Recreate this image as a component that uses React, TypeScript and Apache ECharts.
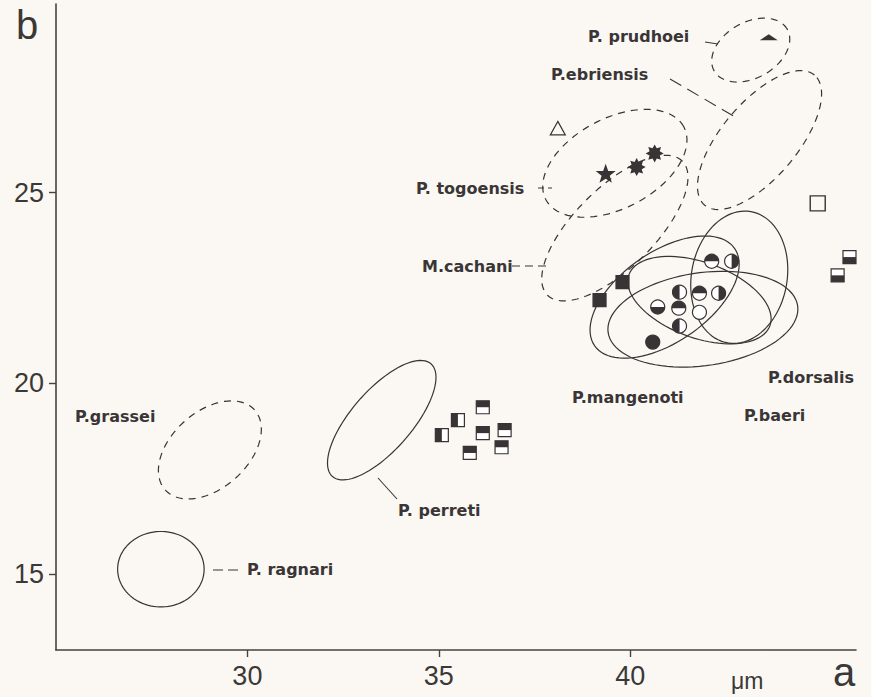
import React, { useEffect, useRef } from "react";
import * as echarts from "echarts";

// ---- axis ticks ----
const X_TICKS = [30, 35, 40];
const Y_TICKS = [15, 20, 25];

// ---- ellipses: [centerX, centerY, semiMajor, semiMinor, angleDeg] (data units) ----
const solidEllipses = [
  [27.74, 15.12, 1.13, 0.99, 0], // P. ragnari
  [33.51, 19.03, 1.96, 0.79, 49], // P. perreti
  [40.9, 22.26, 2.23, 1.18, 35], // mangenoti cluster
  [41.81, 22.18, 1.96, 0.99, -20],
  [41.9, 21.68, 2.5, 1.22, 8],
  [42.85, 22.78, 1.75, 1.25, 80],
];
const dashedEllipses = [
  [29.02, 18.25, 1.57, 1.0, 42], // P. grassei
  [39.6, 25.77, 2.04, 1.18, 28], // P. togoensis
  [39.6, 24.07, 2.49, 1.05, 45], // M. cachani
  [43.15, 28.74, 1.1, 0.73, 30], // P. prudhoei
  [43.38, 26.38, 2.23, 0.99, 50], // P. ebriensis
];

// ---- individual points ----
const filledSquares = [[39.2, 22.18], [39.8, 22.65]];
const topBlackSquares = [[36.15, 19.37], [36.15, 18.69], [36.72, 18.77], [36.64, 18.32], [35.81, 18.17]];
const leftBlackSquares = [[35.5, 19.03], [35.08, 18.64]];
const bottomBlackSquares = [[45.73, 23.31], [45.42, 22.83]];
const openSquares = [[44.9, 24.72]];
const filledCircles = [[40.59, 21.08]];
const openCircles = [[41.81, 21.86]];
const topBlackCircles = [[42.13, 23.2], [41.81, 22.36], [41.27, 21.97]];
const bottomBlackCircles = [[40.72, 22.0]];
const leftBlackCircles = [[41.29, 22.39], [41.29, 21.5]];
const rightBlackCircles = [[42.65, 23.2], [42.31, 22.36]];
const openTriangles = [[38.11, 26.66]];
const flatTriangles = [[43.62, 29.05]];
const fivePointStars = [[39.36, 25.48]];
const eightPointStars = [[40.17, 25.67], [40.64, 26.03]];

const INK = "#383334";
const BG = "#fbf8f3";
const LABEL_FONT = { fontFamily: "DejaVu Sans", fontWeight: "bold", fontSize: 16, fill: "#3a3536" };

function ellipseSeries(data: number[][], dashed: boolean) {
  return {
    type: "custom",
    data,
    encode: { x: 0, y: 1 },
    silent: true,
    renderItem: (_p: any, api: any) => {
      const cx = api.value(0), cy = api.value(1), a = api.value(2), b = api.value(3);
      const th = (api.value(4) * Math.PI) / 180;
      const pts: number[][] = [];
      const N = 90;
      for (let i = 0; i < N; i++) {
        const t = (i / N) * Math.PI * 2;
        const x = cx + a * Math.cos(th) * Math.cos(t) - b * Math.sin(th) * Math.sin(t);
        const y = cy + a * Math.sin(th) * Math.cos(t) + b * Math.cos(th) * Math.sin(t);
        pts.push(api.coord([x, y]));
      }
      return {
        type: "polygon",
        shape: { points: pts },
        style: { fill: "none", stroke: INK, lineWidth: 1.2, lineDash: dashed ? [7, 6] : null },
      };
    },
  };
}

function starPoints(px: number, py: number, n: number, R: number, r: number) {
  const pts: number[][] = [];
  for (let k = 0; k < 2 * n; k++) {
    const ang = -Math.PI / 2 + (k * Math.PI) / n;
    const rad = k % 2 === 0 ? R : r;
    pts.push([px + rad * Math.cos(ang), py + rad * Math.sin(ang)]);
  }
  return pts;
}

function drawMarker(kind: string, px: number, py: number): any {
  const s = 13;
  const r = 7;
  const sq = (fill: string) => ({
    type: "rect",
    shape: { x: px - s / 2, y: py - s / 2, width: s, height: s },
    style: { fill, stroke: INK, lineWidth: 1.2 },
  });
  const circ = (fill: string) => ({
    type: "circle",
    shape: { cx: px, cy: py, r },
    style: { fill, stroke: INK, lineWidth: 1.2 },
  });
  const half = (a0: number, a1: number) => ({
    type: "sector",
    shape: { cx: px, cy: py, r0: 0, r, startAngle: a0, endAngle: a1, clockwise: true },
    style: { fill: INK },
  });
  switch (kind) {
    case "sqFill":
      return sq(INK);
    case "sqTop":
      return { type: "group", children: [sq("#fff"), { type: "rect", shape: { x: px - s / 2, y: py - s / 2, width: s, height: s / 2 }, style: { fill: INK } }] };
    case "sqBottom":
      return { type: "group", children: [sq("#fff"), { type: "rect", shape: { x: px - s / 2, y: py, width: s, height: s / 2 }, style: { fill: INK } }] };
    case "sqLeft":
      return { type: "group", children: [sq("#fff"), { type: "rect", shape: { x: px - s / 2, y: py - s / 2, width: s / 2, height: s }, style: { fill: INK } }] };
    case "sqOpen":
      return { type: "rect", shape: { x: px - 7.5, y: py - 7.5, width: 15, height: 15 }, style: { fill: BG, stroke: INK, lineWidth: 1.4 } };
    case "cFill":
      return circ(INK);
    case "cOpen":
      return circ("#fff");
    case "cTop":
      return { type: "group", children: [circ("#fff"), half(Math.PI, Math.PI * 2)] };
    case "cBottom":
      return { type: "group", children: [circ("#fff"), half(0, Math.PI)] };
    case "cLeft":
      return { type: "group", children: [circ("#fff"), half(Math.PI / 2, (Math.PI * 3) / 2)] };
    case "cRight":
      return { type: "group", children: [circ("#fff"), half(-Math.PI / 2, Math.PI / 2)] };
    case "triOpen":
      return {
        type: "polygon",
        shape: { points: [[px, py - 8], [px + 7.5, py + 5.5], [px - 7.5, py + 5.5]] },
        style: { fill: "none", stroke: INK, lineWidth: 1.2 },
      };
    case "triFlat":
      return {
        type: "polygon",
        shape: { points: [[px, py - 4], [px + 9, py + 2], [px - 9, py + 2]] },
        style: { fill: INK },
      };
    case "star5":
      return { type: "polygon", shape: { points: starPoints(px, py, 5, 10.5, 4.3) }, style: { fill: INK } };
    case "star8":
      return { type: "polygon", shape: { points: starPoints(px, py, 8, 9, 5.5) }, style: { fill: INK } };
  }
  return null;
}

function markerSeries(data: number[][], kind: string) {
  return {
    type: "custom",
    data,
    encode: { x: 0, y: 1 },
    z: 5,
    silent: true,
    renderItem: (_p: any, api: any) => {
      const [px, py] = api.coord([api.value(0), api.value(1)]);
      return drawMarker(kind, px, py);
    },
  };
}

function label(text: string, x: number, y: number) {
  return { type: "text", x, y, style: { text, ...LABEL_FONT, align: "left", verticalAlign: "middle" } };
}
function leader(x1: number, y1: number, x2: number, y2: number, dash?: number[]) {
  return {
    type: "line",
    shape: { x1, y1, x2, y2 },
    style: { stroke: INK, lineWidth: 1.1, lineDash: dash || null },
  };
}

export default function App() {
  const ref = useRef<HTMLDivElement>(null);
  useEffect(() => {
    if (!ref.current) return;
    const chart = echarts.init(ref.current, null, { renderer: "svg" });
    const axisFont = { fontFamily: "Liberation Sans", fontSize: 27, color: "#3b3838" };
    chart.setOption({
      animation: false,
      backgroundColor: BG,
      grid: { left: 56, right: 15, top: 4, bottom: 47 },
      xAxis: {
        type: "value",
        min: 25,
        max: 45.9,
        splitLine: { show: false },
        axisLine: { lineStyle: { color: "#4a3f42", width: 1.6 } },
        axisTick: { customValues: X_TICKS, length: 7, lineStyle: { color: "#4a3f42", width: 1.4 } },
        axisLabel: { customValues: X_TICKS, margin: 12, ...axisFont },
      },
      yAxis: {
        type: "value",
        min: 13,
        max: 29.95,
        splitLine: { show: false },
        axisLine: { lineStyle: { color: "#4a3f42", width: 1.6 } },
        axisTick: { customValues: Y_TICKS, length: 7, lineStyle: { color: "#4a3f42", width: 1.4 } },
        axisLabel: { customValues: Y_TICKS, margin: 12, ...axisFont },
      },
      series: [
        ...solidEllipses.map((e) => ellipseSeries([e], false)),
        ...dashedEllipses.map((e) => ellipseSeries([e], true)),
        markerSeries(filledSquares, "sqFill"),
        markerSeries(topBlackSquares, "sqTop"),
        markerSeries(leftBlackSquares, "sqLeft"),
        markerSeries(bottomBlackSquares, "sqBottom"),
        markerSeries(openSquares, "sqOpen"),
        markerSeries(filledCircles, "cFill"),
        markerSeries(openCircles, "cOpen"),
        markerSeries(topBlackCircles, "cTop"),
        markerSeries(bottomBlackCircles, "cBottom"),
        markerSeries(leftBlackCircles, "cLeft"),
        markerSeries(rightBlackCircles, "cRight"),
        markerSeries(openTriangles, "triOpen"),
        markerSeries(flatTriangles, "triFlat"),
        markerSeries(fivePointStars, "star5"),
        markerSeries(eightPointStars, "star8"),
      ],
      graphic: [
        { type: "text", x: 16, y: 25, style: { text: "b", fontFamily: "Liberation Sans", fontSize: 40, fill: "#3b3838", verticalAlign: "middle" } },
        { type: "text", x: 833, y: 672, style: { text: "a", fontFamily: "Liberation Sans", fontSize: 40, fill: "#3b3838", verticalAlign: "middle" } },
        { type: "text", x: 731, y: 681, style: { text: "μm", fontFamily: "Liberation Sans", fontSize: 23, fill: "#3b3838", verticalAlign: "middle" } },
        label("P. prudhoei", 588, 36),
        leader(705, 42, 718, 44),
        label("P.ebriensis", 551, 74),
        leader(670, 79, 737, 118, [13, 7]),
        label("P. togoensis", 416, 188),
        leader(538, 188, 552, 188, [6, 4]),
        label("M.cachani", 422, 266),
        leader(512, 266, 548, 266, [8, 5]),
        label("P.grassei", 75, 416),
        label("P. perreti", 398, 510),
        leader(378, 478, 397, 499),
        label("P. ragnari", 247, 569),
        leader(213, 570, 241, 570, [10, 5]),
        label("P.mangenoti", 572, 397),
        label("P.dorsalis", 768, 377),
        label("P.baeri", 744, 415),
      ],
    });
    return () => chart.dispose();
  }, []);
  return <div ref={ref} style={{ position: "fixed", left: 0, top: 0, width: 871, height: 697 }} />;
}
